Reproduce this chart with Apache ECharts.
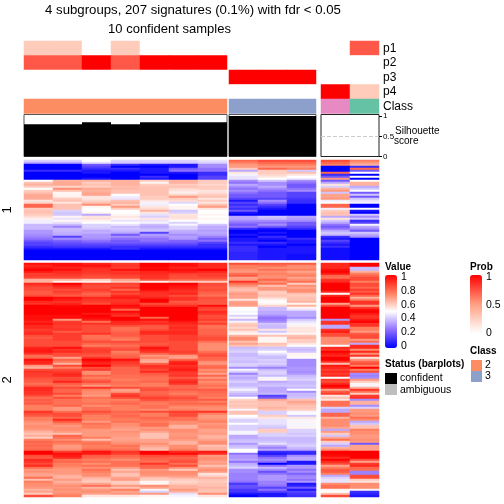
<!DOCTYPE html>
<html><head><meta charset="utf-8">
<style>html,body{margin:0;padding:0;background:#fff}#c{width:504px;height:504px}</style>
<script src="https://cdn.jsdelivr.net/npm/echarts@6/dist/echarts.min.js"></script>
</head><body><div id="c"></div>
<script>
// Heatmap values in percent; columns: group 2 (7 samples), group 3 (3 samples), unclassified (2 samples)
const cluster1Rows = [
[42,42,50,42,42,42,45,80,85,85,85,75],[35,35,45,40,40,40,42,75,80,80,80,70],[0,0,20,10,5,5,30,70,75,75,75,65],[0,0,15,0,0,5,30,70,70,70,0,10],
[0,0,10,10,5,20,25,60,80,75,0,80],[10,10,5,5,5,25,25,35,60,40,0,20],[0,0,5,0,5,5,10,55,60,62,80,50],[0,0,0,0,0,0,10,48,58,55,10,0],
[0,0,0,0,10,0,15,45,55,50,20,50],[0,0,5,0,5,0,15,45,50,47,70,0],[50,65,65,65,60,65,60,30,40,30,20,50],[62,67,60,65,52,65,60,25,30,25,35,65],
[65,67,62,65,60,60,58,35,30,20,55,65],[60,58,60,63,62,62,60,30,35,20,42,35],[50,72,67,64,62,58,60,25,30,25,65,40],[60,62,65,62,62,55,55,30,25,30,70,50],
[62,52,67,62,62,53,56,25,20,15,40,20],[67,52,68,50,62,58,60,20,20,15,68,40],[67,53,55,47,60,70,62,20,20,15,68,20],[66,60,55,45,60,60,55,15,15,12,70,40],
[55,62,58,62,55,57,60,5,30,10,47,45],[58,55,62,65,48,43,55,15,25,10,50,48],[80,62,72,60,47,50,62,10,15,0,80,0],[80,62,52,70,55,52,70,15,10,0,80,0],
[60,62,50,60,57,52,55,10,5,0,47,50],[62,42,50,50,65,40,50,20,0,0,60,5],[62,40,52,50,55,42,50,5,0,0,62,0],[60,40,35,52,45,55,52,0,0,0,62,40],
[57,52,55,55,42,56,50,35,40,35,35,30],[53,45,56,52,55,55,52,35,38,33,55,40],[47,52,52,45,45,50,50,30,30,30,40,10],[47,45,50,50,48,42,50,25,25,20,35,15],
[38,38,42,45,38,48,40,20,30,20,25,48],[38,28,42,38,35,42,35,25,20,15,20,35],[38,38,40,40,38,42,36,10,5,10,25,30],[32,38,35,38,40,36,33,0,0,0,35,20],
[32,36,36,35,15,35,35,0,5,0,40,40],[30,35,32,20,33,30,33,5,0,0,38,35],[28,15,32,30,30,33,28,0,10,0,10,30],[25,30,30,25,25,32,20,5,5,10,5,0],
[20,22,25,20,25,22,25,5,0,5,15,0],[15,18,20,20,20,20,15,10,10,5,10,0],[15,15,15,15,15,15,10,5,5,0,5,0],[10,12,12,10,10,10,10,10,0,5,10,0],
[5,5,5,10,5,5,5,10,5,5,3,0],[0,0,0,0,0,0,0,10,5,5,3,0],[0,0,0,0,0,0,0,8,5,5,3,0],[0,0,0,0,0,0,0,8,5,3,3,0],
[0,0,0,0,0,0,0,8,5,3,3,0],[0,0,0,0,0,0,0,8,5,3,3,0]
];
const cluster2Rows = [
[97,97,93,88,100,97,92,85,82,82,92,100],[93,97,97,90,100,97,92,75,78,73,92,100],[95,93,92,88,98,93,92,75,72,72,92,38],[100,97,90,97,100,97,100,72,78,75,97,38],
[95,92,90,90,93,95,93,70,72,68,100,65],[88,90,88,90,92,88,88,78,75,72,95,75],[88,88,85,87,90,85,88,82,72,75,80,80],[85,85,85,85,90,85,85,68,72,68,78,85],
[65,65,60,68,85,80,80,70,80,72,90,85],[65,53,53,62,53,60,60,90,72,78,92,75],[92,100,88,87,100,100,85,78,78,60,100,85],[88,94,85,85,100,97,85,72,62,72,100,85],
[85,90,85,90,100,95,83,65,70,68,100,80],[85,85,88,80,98,92,85,62,70,72,100,88],[82,88,85,90,92,90,82,65,60,72,92,82],[82,85,80,85,90,93,80,70,60,62,50,90],
[85,82,82,92,90,85,78,68,62,60,92,80],[100,97,92,95,93,90,85,68,58,62,100,65],[100,95,90,90,100,90,83,55,52,62,100,75],[92,90,88,90,100,82,83,68,50,65,100,90],
[90,93,85,92,85,85,82,70,52,52,68,90],[100,98,100,98,90,90,97,68,58,65,85,70],[100,100,100,95,100,100,88,50,38,52,100,88],[100,100,100,80,100,100,85,50,38,45,100,97],
[100,100,100,98,100,100,92,48,35,35,100,100],[100,100,95,93,100,100,90,50,35,35,100,95],[97,97,100,90,100,100,85,42,30,35,100,90],[97,98,98,100,80,100,85,52,25,30,100,90],
[97,70,95,100,97,100,88,38,27,40,32,95],[93,88,78,92,90,95,82,48,30,45,90,100],[97,90,90,92,92,92,88,60,40,48,90,90],[92,88,85,85,83,90,78,62,38,52,35,90],
[92,88,85,78,82,92,78,58,38,55,35,75],[88,90,85,78,85,90,80,62,55,55,90,75],[90,82,85,80,92,92,80,55,40,55,95,70],[92,88,90,82,92,92,80,52,48,52,85,82],
[85,88,78,82,85,88,82,65,62,62,85,85],[82,88,78,78,85,88,85,72,52,65,72,85],[85,88,80,75,85,88,85,72,52,60,72,70],[85,85,85,85,85,85,78,62,52,60,72,78],
[85,85,80,82,82,85,73,68,62,55,72,35],[85,85,75,78,85,85,72,62,60,50,50,92],[93,97,85,82,97,85,72,38,40,40,92,92],[95,90,88,85,93,85,72,40,42,38,90,72],
[95,92,88,75,90,88,78,42,50,40,100,92],[90,85,85,78,80,85,82,38,45,52,95,72],[78,85,82,80,70,70,85,38,40,52,92,90],[80,68,90,82,75,68,80,40,38,50,100,55],
[97,80,100,97,68,80,80,40,42,30,100,70],[93,75,95,90,65,92,72,38,40,30,90,80],[92,65,92,88,80,95,70,42,42,30,62,85],[70,85,100,85,90,90,78,42,38,30,95,75],
[65,75,85,80,90,92,80,30,28,32,92,100],[85,85,88,80,85,95,72,48,38,32,88,75],[90,88,72,80,92,90,75,42,42,30,92,85],[88,92,72,80,82,88,68,28,42,32,88,30],
[88,92,80,78,80,90,80,38,38,38,92,28],[85,85,75,78,78,82,70,35,48,40,50,30],[82,85,80,75,78,88,78,38,52,42,88,70],[82,93,85,78,80,92,72,42,35,38,85,60],
[78,82,78,78,75,90,75,38,38,38,92,52],[82,78,70,75,75,80,78,38,40,40,100,48],[92,85,90,85,82,80,75,42,35,38,95,65],[92,80,75,68,85,82,82,48,35,50,68,90],
[90,80,72,70,80,78,80,42,35,30,82,78],[90,85,72,85,80,75,78,38,38,38,88,60],[85,75,70,90,82,80,78,35,15,38,55,88],[78,85,78,85,88,85,75,50,20,40,62,90],
[82,78,75,75,85,82,82,58,68,62,55,30],[80,78,75,78,78,78,75,62,62,68,78,65],[82,78,78,80,75,80,80,60,62,65,78,65],[75,80,72,75,78,75,75,62,62,62,78,30],
[75,70,78,75,78,72,72,60,65,62,42,42],[75,70,78,75,72,75,72,48,62,60,35,70],[90,78,85,80,85,88,90,62,42,48,35,70],[85,85,80,78,75,85,75,62,42,50,80,72],
[82,85,75,80,75,85,70,50,60,40,80,70],[75,80,75,78,80,78,70,48,55,55,65,78],[75,92,75,75,78,78,72,42,45,48,72,72],[72,82,70,78,75,72,75,42,45,52,72,35],
[70,75,78,72,78,72,70,50,45,48,72,40],[72,70,75,72,78,65,72,42,42,48,72,62],[72,72,75,70,70,65,72,42,40,52,68,62],[70,72,70,68,72,72,68,42,60,42,35,75],
[65,70,70,72,68,72,68,48,60,42,70,72],[62,62,70,70,62,70,70,48,42,40,60,72],[66,80,70,70,62,70,65,35,42,42,40,70],[60,78,75,68,62,72,65,35,38,38,68,70],
[75,72,62,68,68,70,68,38,38,38,78,72],[80,78,75,70,68,65,72,40,40,38,60,70],[78,75,78,72,72,65,72,32,45,40,42,20],[80,70,75,78,68,72,62,38,35,42,35,68],
[78,70,75,75,65,72,65,40,28,38,65,68],[80,72,80,78,62,75,65,50,35,35,72,68],[100,88,97,90,100,92,95,50,10,10,100,100],[100,97,95,88,100,98,92,25,5,8,100,100],
[85,95,82,80,85,85,70,32,15,30,98,100],[82,92,80,78,82,80,72,32,25,35,92,100],[92,78,75,72,80,82,72,35,30,35,100,85],[90,80,78,78,78,85,68,25,25,5,92,68],
[85,75,72,78,90,78,70,35,0,5,85,88],[92,75,78,78,80,85,62,38,25,32,68,92],[78,72,72,70,80,72,68,42,38,32,75,80],[70,70,78,62,70,60,72,30,30,25,82,78],
[72,70,75,68,72,72,70,30,18,30,82,28],[68,70,72,62,72,72,55,28,25,22,75,28],[68,65,72,62,70,70,58,28,32,28,35,85],[78,65,65,68,62,65,65,28,32,30,42,85],
[62,70,62,70,60,60,62,28,32,25,45,60],[75,65,60,60,52,58,60,25,28,32,45,55],[72,68,68,60,52,60,62,12,28,5,72,72],[72,72,78,70,72,65,62,18,25,8,78,72],
[70,70,65,62,68,65,65,18,15,20,78,72],[65,72,70,75,52,70,62,12,25,5,52,52],[68,70,72,68,42,65,62,12,15,15,50,10],[60,72,68,70,70,45,72,5,5,12,62,8],
[85,75,55,55,52,48,55,0,5,10,85,5]
];
const p1 = [27,27,0,27,0,0,0, 0,0,0, 0,72];
const p2 = [72,72,100,72,100,100,100, 0,0,0, 0,0];
const p3 = [0,0,0,0,0,0,0, 100,100,100, 0,0];
const p4 = [0,0,0,0,0,0,0, 0,0,0, 100,27];
const classCodes = [0,0,0,0,0,0,0, 1,1,1, 2,3];
const classColors = ['#FC8D62','#8DA0CB','#E78AC3','#66C2A5'];
const silhouette = [0.8,0.8,0.85,0.8,0.85,0.85,0.85, 1,1,1, 0,0];
const annotationNames = ['p1','p2','p3','p4','Class'];
const valueStops = ['#0000ff','#8f70ff','#ffffff','#ff7f5f','#ff0000'];
const probStops = ['#ffffff','#ff9e81','#ff0000'];

const FONT = '"Liberation Sans", Arial, sans-serif';
const blocks = [{l:24,w:203,from:0,to:7},{l:229,w:87,from:7,to:10},{l:321,w:58,from:10,to:12}];

const grid=[],xAxis=[],yAxis=[],series=[];
const heatIdx=[],probIdx=[],classIdx=[];
function addGrid(b,top,h){
  grid.push({left:b.l,width:b.w,top:top,height:h,containLabel:false,show:false});
  return grid.length-1;
}
function cats(n){return Array.from({length:n},(_,i)=>String(i));}
function hiddenX(g,n){xAxis.push({gridIndex:g,type:'category',data:cats(n),show:false});}

blocks.forEach((b,bi)=>{
  const n=b.to-b.from;
  // annotations
  let g=addGrid(b,41,72.5);
  hiddenX(g,n);
  yAxis.push({gridIndex:g,type:'category',inverse:true,data:annotationNames,show:bi===2,position:'right',
    axisLine:{show:false},axisTick:{show:false},axisLabel:{show:bi===2,interval:0,fontFamily:FONT,fontSize:12,color:'#000',margin:4}});
  const probData=[];
  [p1,p2,p3,p4].forEach((arr,r)=>{for(let c=b.from;c<b.to;c++)probData.push([c-b.from,r,arr[c]/100]);});
  probIdx.push(series.length);
  series.push({type:'heatmap',xAxisIndex:g,yAxisIndex:g,data:probData,progressive:0,silent:true});
  const cData=[];
  for(let c=b.from;c<b.to;c++)cData.push([c-b.from,4,classCodes[c]]);
  classIdx.push(series.length);
  series.push({type:'heatmap',xAxisIndex:g,yAxisIndex:g,data:cData,progressive:0,silent:true});

  // silhouette
  g=addGrid(b,114.5,42);
  grid[g].show=true;grid[g].borderColor=bi===2?'#222':'#555';grid[g].borderWidth=1;grid[g].backgroundColor='#fff';
  hiddenX(g,n);
  yAxis.push({gridIndex:g,type:'value',min:0,max:1.04,position:'right',show:true,
    axisLine:{show:false},splitLine:{show:false},
    axisTick:{show:bi===2,customValues:[0,0.5,1],length:3,lineStyle:{color:'#000'}},
    axisLabel:{show:bi===2,customValues:[0,0.5,1],fontFamily:FONT,fontSize:8,color:'#000',margin:4,formatter:v=>String(v)}});
  series.push({type:'bar',xAxisIndex:g,yAxisIndex:g,barWidth:'100%',silent:true,itemStyle:{color:'#000'},
    data:silhouette.slice(b.from,b.to),
    markLine:bi===2?{silent:true,symbol:'none',label:{show:false},lineStyle:{type:'dashed',color:'#ccc',width:1},data:[{yAxis:0.5}]}:undefined});

  // heatmaps
  [[cluster1Rows,160,100,'1'],[cluster2Rows,263,234,'2']].forEach(([rows,top,h,name])=>{
    const gg=addGrid(b,top,h);
    hiddenX(gg,n);
    yAxis.push({gridIndex:gg,type:'category',inverse:true,data:cats(rows.length),show:bi===0,
      axisLine:{show:false},axisTick:{show:false},axisLabel:{show:false},
      name:bi===0?name:'',nameLocation:'middle',nameGap:10,nameRotate:90,
      nameTextStyle:{fontFamily:FONT,fontSize:13,color:'#000'}});
    const d=[];
    rows.forEach((row,r)=>{for(let c=b.from;c<b.to;c++)d.push([c-b.from,r,row[c]/100]);});
    heatIdx.push(series.length);
    series.push({type:'heatmap',xAxisIndex:gg,yAxisIndex:gg,data:d,progressive:0,silent:true});
  });
});

// legend tick axes
function legendAxis(left,top,h,interval,fmt){
  const g=grid.length;
  grid.push({left:left,width:12,top:top,height:h,show:false,z:10});
  xAxis.push({gridIndex:g,type:'value',show:false,min:0,max:1});
  yAxis.push({gridIndex:g,type:'value',min:0,max:1,interval:interval,position:'right',z:10,
    axisLine:{show:false},splitLine:{show:false},
    axisTick:{show:true,inside:true,length:3,lineStyle:{color:'#fff'}},
    axisLabel:{fontFamily:FONT,fontSize:10.5,color:'#000',margin:4,formatter:fmt}});
  series.push({type:'line',xAxisIndex:g,yAxisIndex:g,data:[],silent:true});
}
legendAxis(385,277.5,68.5,0.2,v=>String(+v.toFixed(1)));
legendAxis(470,277.5,55.5,0.5,v=>String(v));

const text=(x,y,s,o={})=>({type:'text',left:x,top:y,z:20,silent:true,style:Object.assign({text:s,fill:'#000',font:`${o.bold?'bold ':''}${o.size||10.5}px ${FONT}`},o.extra||{})});
const rect=(x,y,w,h,c)=>({type:'rect',shape:{x:x,y:y,width:w,height:h},z:20,silent:true,style:{fill:c}});

const option={
  animation:false,backgroundColor:'#fff',
  title:[
    {text:'4 subgroups, 207 signatures (0.1%) with fdr < 0.05',left:193,top:4,textAlign:'center',padding:0,textStyle:{fontFamily:FONT,fontSize:13.2,fontWeight:'normal',color:'#000'}},
    {text:'10 confident samples',left:169.5,top:23,textAlign:'center',padding:0,textStyle:{fontFamily:FONT,fontSize:13,fontWeight:'normal',color:'#000'}}
  ],
  grid,xAxis,yAxis,series,
  visualMap:[
    {type:'continuous',min:0,max:1,seriesIndex:heatIdx,inRange:{color:valueStops},left:385,top:275,itemWidth:12,itemHeight:73,padding:0,text:null,show:true,hoverLink:false,calculable:false,z:5,showLabel:false},
    {type:'continuous',min:0,max:1,seriesIndex:probIdx,inRange:{color:probStops},left:470,top:275,itemWidth:12,itemHeight:58,padding:0,text:null,show:true,hoverLink:false,calculable:false,z:5},
    {type:'piecewise',show:false,seriesIndex:classIdx,pieces:classColors.map((c,i)=>({value:i,color:c}))}
  ],
  graphic:[
    text(395,126,'Silhouette',{size:10}),text(394,136,'score',{size:10}),
    text(385,262,'Value',{bold:true,size:10}),text(470,262,'Prob',{bold:true,size:10}),
    text(385,359,'Status (barplots)',{bold:true,size:10}),
    rect(385,373,12,11,'#000'),rect(385,384,12,11,'#bebebe'),
    text(400,373,'confident'),text(400,385,'ambiguous'),
    text(470,346,'Class',{bold:true,size:10}),
    rect(471,360,11,11,'#FC8D62'),rect(471,371,11,11,'#8DA0CB'),
    text(485,360,'2'),text(485,371,'3')
  ]
};
echarts.init(document.getElementById('c'),null,{renderer:'canvas'}).setOption(option);
</script></body></html>
